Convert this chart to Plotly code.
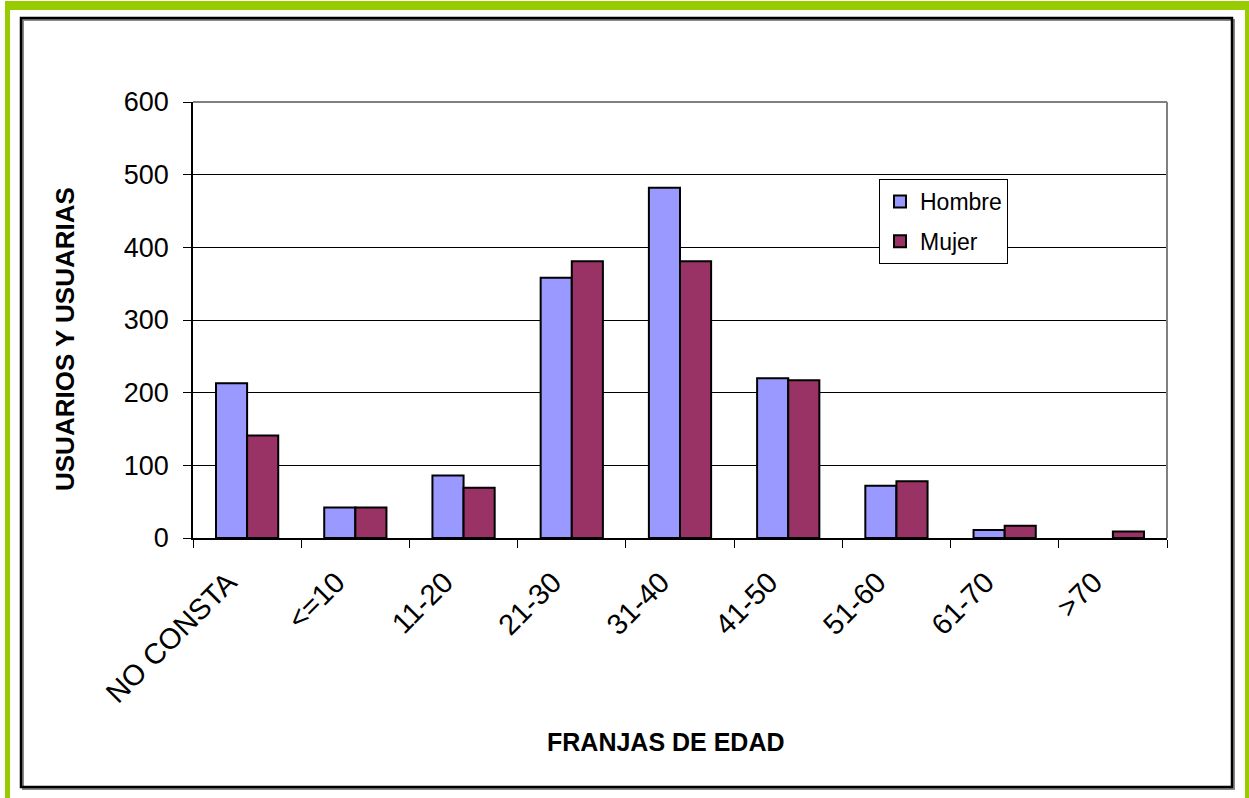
import plotly.graph_objects as go

# Age bands and user counts by sex
franjas = ["NO CONSTA", "<=10", "11-20", "21-30", "31-40", "41-50", "51-60", "61-70", ">70"]
hombre = [213, 42, 86, 358, 482, 220, 72, 11, 0]
mujer = [141, 42, 69, 381, 381, 217, 78, 17, 9]
y_ticks = [0, 100, 200, 300, 400, 500, 600]

W, H = 1249, 798
ML, MR, MT, MB = 193, 82, 102, 260
PW, PH = W - ML - MR, H - MT - MB


def px(x):
    return (x - ML) / PW


def py(y):
    return (H - MB - y) / PH


def outline(values):
    # no outline on empty bars so they leave no stroke on the axis
    return [2 if v > 0 else 0 for v in values]


fig = go.Figure()
fig.add_trace(go.Bar(
    name="Hombre", x=franjas, y=hombre, legendgroup="h",
    marker=dict(color="#9999FF", line=dict(color="black", width=outline(hombre))),
))
fig.add_trace(go.Bar(
    name="Mujer", x=franjas, y=mujer, legendgroup="m",
    marker=dict(color="#993366", line=dict(color="black", width=outline(mujer))),
))

shapes = [
    # green outer band
    dict(type="rect", xref="paper", yref="paper", x0=px(5), x1=px(W + 10), y0=py(1), y1=py(H + 10),
         fillcolor="#99CC00", line=dict(width=0), layer="below"),
    dict(type="rect", xref="paper", yref="paper", x0=px(10), x1=px(1245), y0=py(10), y1=py(H + 10),
         fillcolor="white", line=dict(width=0), layer="below"),
    # drop shadow and black frame
    dict(type="rect", xref="paper", yref="paper", x0=px(23), x1=px(1234), y0=py(20), y1=py(789),
         line=dict(color="#888888", width=2), layer="below"),
    dict(type="rect", xref="paper", yref="paper", x0=px(21), x1=px(1232), y0=py(18), y1=py(787),
         line=dict(color="black", width=2.5), layer="below"),
    # plot area border (top and right)
    dict(type="line", xref="paper", yref="paper", x0=0, x1=1, y0=1, y1=1,
         line=dict(color="#808080", width=2)),
    dict(type="line", xref="paper", yref="paper", x0=1, x1=1, y0=0, y1=1,
         line=dict(color="#808080", width=2)),
]

annotations = [
    dict(text="<b>FRANJAS DE EDAD</b>", xref="paper", yref="paper", x=px(666), y=py(742),
         showarrow=False, font=dict(size=25, color="black"), xanchor="center", yanchor="middle"),
    dict(text="<b>USUARIOS Y USUARIAS</b>", xref="paper", yref="paper", x=px(65), y=py(339),
         showarrow=False, textangle=-90, font=dict(size=26, color="black"),
         xanchor="center", yanchor="middle"),
]

fig.update_layout(
    width=W, height=H,
    margin=dict(l=ML, r=MR, t=MT, b=MB, autoexpand=False),
    paper_bgcolor="white",
    plot_bgcolor="#C0C0C0",
    font=dict(family="Liberation Sans, Arial, sans-serif", color="black"),
    barmode="group",
    bargap=0.425,
    bargroupgap=0,
    showlegend=True,
    legend=dict(
        x=px(879), y=py(179), xanchor="left", yanchor="top",
        bgcolor="white", bordercolor="black", borderwidth=1,
        font=dict(size=23), itemwidth=30, traceorder="grouped", tracegroupgap=7,
    ),
    shapes=shapes,
    annotations=annotations,
)

fig.update_xaxes(
    type="category", tickangle=-45, tickfont=dict(size=29),
    ticklabelshift=-19, ticklabelstandoff=14,
    showline=True, linecolor="black", linewidth=1.5,
    ticks="outside", tickson="boundaries", ticklen=8, tickcolor="black", tickwidth=1,
    showgrid=False,
)
fig.update_yaxes(
    range=[0, 600], tickvals=y_ticks, tickfont=dict(size=27), ticklabelstandoff=9,
    showline=True, linecolor="black", linewidth=1.5,
    ticks="outside", ticklen=8, tickcolor="black", tickwidth=1,
    showgrid=True, gridcolor="black", gridwidth=1,
    zeroline=False,
)

fig.write_html("out.html")
